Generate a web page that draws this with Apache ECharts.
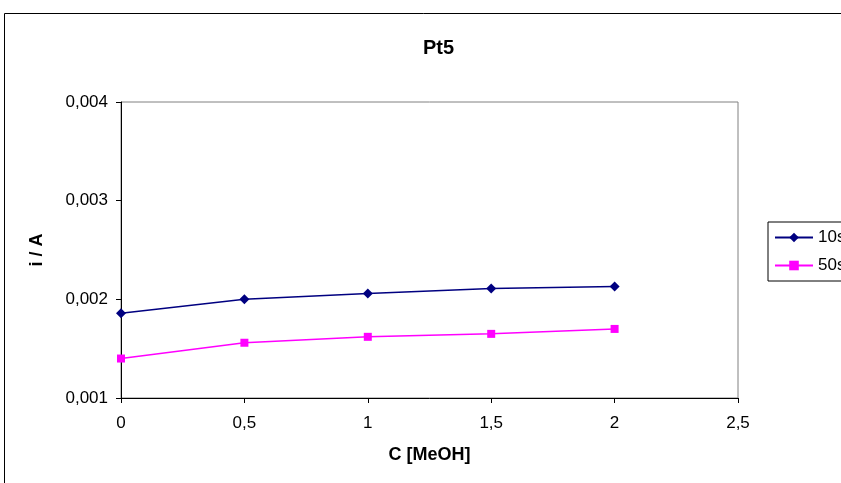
<!DOCTYPE html>
<html>
<head>
<meta charset="utf-8">
<title>Pt5</title>
<script src="https://cdn.jsdelivr.net/npm/echarts@6/dist/echarts.min.js"></script>
<style>
  html, body { margin: 0; padding: 0; background: #fff; }
  #chart { width: 841px; height: 483px; }
</style>
</head>
<body>
<div id="chart"></div>
<script>
// C [MeOH] values on the x axis
const concentrations = [0, 0.5, 1, 1.5, 2];
const current10s = [0.00186, 0.00200, 0.00206, 0.00211, 0.00213];
const current50s = [0.00140, 0.00156, 0.00162, 0.00165, 0.00170];

const seriesNames = ['10s', '50s'];

const font = 'Liberation Sans, Arial, sans-serif';
const comma = (v, digits) => (digits == null ? String(v) : v.toFixed(digits)).replace('.', ',');

const chart = echarts.init(document.getElementById('chart'), null, { renderer: 'canvas' });

const option = {
  animation: false,
  backgroundColor: '#fff',
  title: {
    text: 'Pt5',
    left: 418,
    top: 33,
    textStyle: { fontFamily: font, fontSize: 20, fontWeight: 'bold', color: '#000' },
  },
  graphic: [
    {
      // outer chart frame (runs past the right and bottom edges)
      type: 'rect',
      shape: { x: 4.5, y: 13.5, width: 900, height: 520 },
      style: { fill: null, stroke: '#000', lineWidth: 1 },
      silent: true,
    },
  ],
  legend: {
    orient: 'vertical',
    left: 768,
    top: 222,
    data: seriesNames,
    itemWidth: 38,
    itemHeight: 12,
    itemGap: 11,
    padding: [7, 12, 7, 6],
    borderColor: '#000',
    borderWidth: 1,
    textStyle: { fontFamily: font, fontSize: 17, color: '#000' },
  },
  grid: {
    left: 121,
    top: 102,
    right: 103,
    bottom: 85,
    show: true,
    borderColor: '#808080',
    borderWidth: 1,
    containLabel: false,
  },
  xAxis: {
    type: 'value',
    min: 0,
    max: 2.5,
    interval: 0.5,
    name: 'C [MeOH]',
    nameLocation: 'middle',
    nameGap: 48,
    nameTextStyle: { fontFamily: font, fontSize: 18, fontWeight: 'bold', color: '#000' },
    axisLine: { lineStyle: { color: '#000', width: 1 } },
    axisTick: { show: true, length: 5, lineStyle: { color: '#000' } },
    axisLabel: {
      margin: 17,
      fontFamily: font,
      fontSize: 17,
      color: '#000',
      formatter: (v) => comma(v),
    },
    splitLine: { show: false },
  },
  yAxis: {
    type: 'value',
    min: 0.001,
    max: 0.004,
    interval: 0.001,
    name: 'i / A',
    nameLocation: 'middle',
    nameGap: 75,
    nameTextStyle: { fontFamily: font, fontSize: 18, fontWeight: 'bold', color: '#000' },
    axisLine: { show: true, lineStyle: { color: '#000', width: 1 } },
    axisTick: { show: true, length: 5, lineStyle: { color: '#000' } },
    axisLabel: {
      margin: 13,
      fontFamily: font,
      fontSize: 17,
      color: '#000',
      formatter: (v) => comma(v, 3),
    },
    splitLine: { show: false },
  },
  series: [
    {
      name: seriesNames[0],
      type: 'line',
      data: concentrations.map((c, i) => [c, current10s[i]]),
      symbol: 'diamond',
      symbolSize: 10,
      color: '#000080',
      lineStyle: { color: '#000080', width: 1.5 },
      itemStyle: { color: '#000080' },
    },
    {
      name: seriesNames[1],
      type: 'line',
      data: concentrations.map((c, i) => [c, current50s[i]]),
      symbol: 'rect',
      symbolSize: 8,
      color: '#ff00ff',
      lineStyle: { color: '#ff00ff', width: 1.5 },
      itemStyle: { color: '#ff00ff' },
    },
  ],
};

chart.setOption(option);
</script>
</body>
</html>
